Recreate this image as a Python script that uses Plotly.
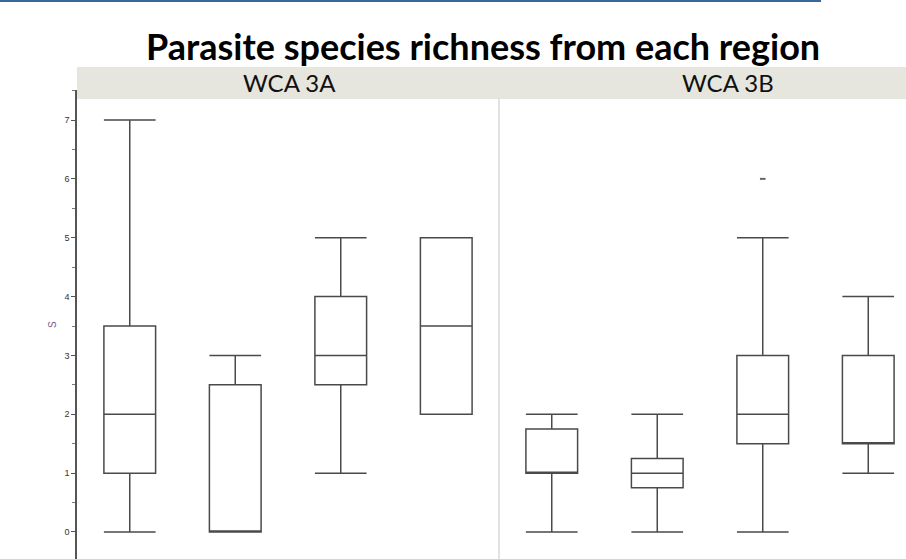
import plotly.graph_objects as go
from plotly.subplots import make_subplots

# box summaries (one list per statistic, 4 groups per region)
regions = ["WCA 3A", "WCA 3B"]
groups = [0, 1, 2, 3]

lower_3a = [0, 0, 1, 2]
q1_3a = [1, 0, 2.5, 2]
median_3a = [2, 0, 3, 3.5]
q3_3a = [3.5, 2.5, 4, 5]
upper_3a = [7, 3, 5, 5]

lower_3b = [0, 0, 0, 1]
q1_3b = [1, 0.75, 1.5, 1.5]
median_3b = [1, 1, 2, 1.5]
q3_3b = [1.75, 1.25, 3, 3]
upper_3b = [2, 2, 5, 4]

outlier_x = [2]
outlier_y = [6]

W, H = 906, 559
line_col = "#4a4a4a"

fig = make_subplots(rows=1, cols=2, shared_yaxes=True, horizontal_spacing=0)

def add_boxes(col, lo, q1, med, q3, hi):
    for i in range(len(groups)):
        fig.add_trace(
            go.Box(x=[groups[i]], lowerfence=[lo[i]], q1=[q1[i]], median=[med[i]],
                   q3=[q3[i]], upperfence=[hi[i]], width=0.49, whiskerwidth=1,
                   fillcolor="white", line=dict(color=line_col, width=1.5),
                   boxpoints=False, showlegend=False, hoverinfo="skip"),
            row=1, col=col)

add_boxes(1, lower_3a, q1_3a, median_3a, q3_3a, upper_3a)
add_boxes(2, lower_3b, q1_3b, median_3b, q3_3b, upper_3b)

# outlier shown as a little dash
fig.add_trace(
    go.Scatter(x=outlier_x, y=outlier_y, mode="markers",
               marker=dict(symbol="line-ew", size=4, line=dict(color="#666", width=2)),
               showlegend=False, hoverinfo="skip"),
    row=1, col=2)

left0 = 77 / W
mid = 499 / W
ytop = (H - 90) / H

fig.update_xaxes(showticklabels=False, ticks="", showline=False, showgrid=False,
                 zeroline=False)
fig.update_xaxes(range=[-0.5, 3.5], domain=[left0, mid], row=1, col=1)
fig.update_xaxes(range=[-0.5, 3.5 - 15 / 105.5], domain=[mid, 1], row=1, col=2)

fig.update_yaxes(range=[-0.459, 7.51], domain=[0, ytop], showgrid=False, zeroline=False)
fig.update_yaxes(showline=True, linecolor="#555", linewidth=1.5, ticks="outside",
                 ticklen=4, tickcolor="#555", dtick=1, tick0=0,
                 tickfont=dict(family="Liberation Sans", size=9, color="#333"),
                 minor=dict(ticks="outside", ticklen=3, dtick=0.5, tickcolor="#777"),
                 row=1, col=1)
fig.update_yaxes(showline=False, ticks="", row=1, col=2)

# strip header
fig.add_shape(type="rect", xref="paper", yref="paper", x0=left0, x1=1,
              y0=(H - 99) / H, y1=(H - 67) / H, fillcolor="#e6e6de",
              line=dict(width=0), layer="above")
# panel divider
fig.add_shape(type="line", xref="paper", yref="paper", x0=mid, x1=mid,
              y0=0, y1=(H - 99) / H, line=dict(color="#e2e2e2", width=2))
# blue rule at the top
fig.add_shape(type="rect", xref="paper", yref="paper", x0=0, x1=821 / W,
              y0=(H - 2) / H, y1=1, fillcolor="#3a679b", line=dict(width=0))

for name, xc in zip(regions, [289, 728]):
    fig.add_annotation(x=xc / W, y=(H - 83) / H, xref="paper", yref="paper",
                       xanchor="center", yanchor="middle",
                       text=name, showarrow=False,
                       font=dict(family="Lato", size=24, color="#111"))

fig.add_annotation(x=53 / W, y=(H - 325) / H, xref="paper", yref="paper",
                   xanchor="center", yanchor="middle",
                   text="S", textangle=-90, showarrow=False,
                   font=dict(family="Liberation Sans", size=10, color="#7a5a90"))

fig.add_annotation(x=483 / W, y=(H - 46) / H, xref="paper", yref="paper",
                   xanchor="center", yanchor="middle",
                   text="<b>Parasite species richness from each region</b>",
                   showarrow=False,
                   font=dict(family="Lato", size=36, color="#000"))

fig.update_layout(width=W, height=H, margin=dict(l=0, r=0, t=0, b=0),
                  plot_bgcolor="white", paper_bgcolor="white")

fig.write_html("out.html", config={"displayModeBar": False},
               post_script="document.body.style.margin='0';")
